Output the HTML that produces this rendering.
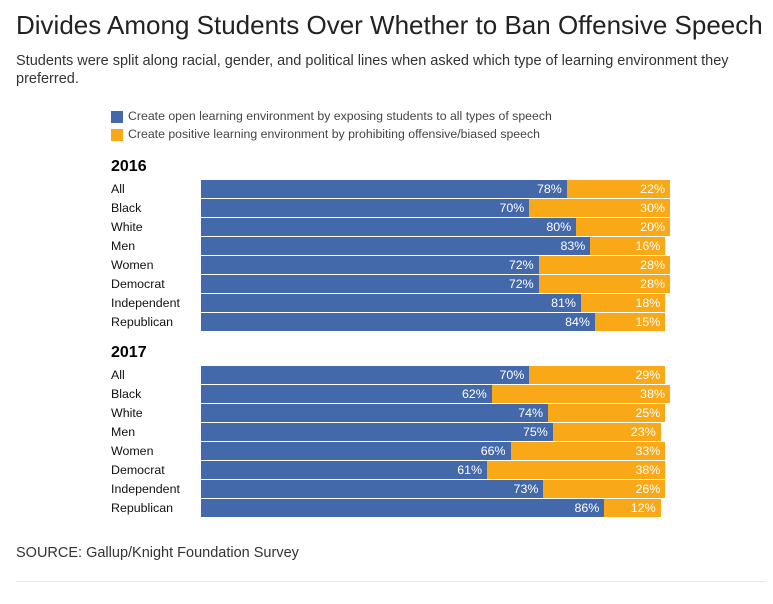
<!DOCTYPE html>
<html><head><meta charset="utf-8"><style>
body{margin:0;width:773px;height:604px;background:#fff;font-family:"Liberation Sans",sans-serif;position:relative;overflow:hidden}
.t{position:absolute;white-space:nowrap}
</style></head><body>
<div class="t" style="left:16px;top:10px;font-size:26px;color:#222">Divides Among Students Over Whether to Ban Offensive Speech</div>
<div class="t" style="left:16px;top:52px;font-size:14.5px;color:#333;white-space:normal;width:745px;line-height:18px">Students were split along racial, gender, and political lines when asked which type of learning environment they preferred.</div>
<div>
<div style="position:absolute;left:111px;top:111px;width:12px;height:12px;background:#4469aa"></div>
<div class="t" style="left:128px;top:109px;font-size:12.3px;color:#444">Create open learning environment by exposing students to all types of speech</div>
<div style="position:absolute;left:111px;top:129px;width:12px;height:12px;background:#f9a918"></div>
<div class="t" style="left:128px;top:127px;font-size:12.3px;color:#444">Create positive learning environment by prohibiting offensive/biased speech</div>
</div>
<div id="chart"></div>
<div class="t" style="left:16px;top:545px;font-size:14.5px;color:#333">SOURCE: Gallup/Knight Foundation Survey</div>
<div style="position:absolute;left:16px;top:581px;width:750px;height:1px;background:#e6e6e6"></div>
<script>
const groups=["2016","2017"];
const categories=["All","Black","White","Men","Women","Democrat","Independent","Republican"];
const open2016=[78,70,80,83,72,72,81,84];
const pos2016=[22,30,20,16,28,28,18,15];
const open2017=[70,62,74,75,66,61,73,86];
const pos2017=[29,38,25,23,33,38,26,12];
const openVals=[open2016,open2017];
const posVals=[pos2016,pos2017];
const x0=201,pxPer=4.69,groupTop=[180,366],pitch=19,barH=18;
const xs=v=>v*pxPer;
const c=document.getElementById('chart');
function mk(css,text){const d=document.createElement('div');d.style.cssText='position:absolute;'+css;if(text!=null)d.textContent=text;c.appendChild(d);return d;}
groups.forEach((g,gi)=>{
  const h=mk('left:111px;top:'+(groupTop[gi]-22)+'px;font-size:16px;font-weight:bold;color:#000;white-space:nowrap',g);
  
  
  categories.forEach((cat,i)=>{
    const y=groupTop[gi]+i*pitch;
    const l=mk('left:111px;top:'+(y+2)+'px;font-size:12.4px;color:#111;white-space:nowrap',cat);
    
    
    const o=openVals[gi][i],p=posVals[gi][i];
    const b1=mk('left:'+x0+'px;top:'+y+'px;width:'+xs(o)+'px;height:'+barH+'px;background:#4469aa;color:#fff;font-size:12.4px;text-align:right;line-height:18px;box-sizing:border-box;padding-right:5px',o+'%');
    
    
    const b2=mk('left:'+(x0+xs(o))+'px;top:'+y+'px;width:'+xs(p)+'px;height:'+barH+'px;background:#f9a918;color:#fff;font-size:12.4px;text-align:right;line-height:18px;box-sizing:border-box;padding-right:5px',p+'%');
    
    
  });
});
</script>
</body></html>
